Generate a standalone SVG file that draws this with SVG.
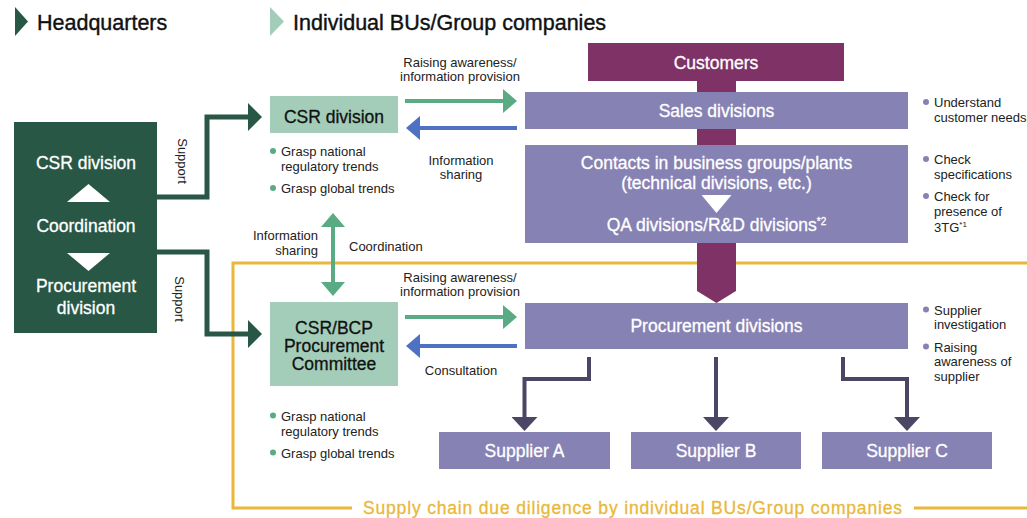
<svg xmlns="http://www.w3.org/2000/svg" width="1027" height="518" viewBox="0 0 1027 518">
<defs>
<style>
text{font-family:"Liberation Sans",Arial,sans-serif;}
.title{font-size:21.5px;fill:#111;stroke:#111;stroke-width:0.4;}
.lbl{font-size:17.5px;text-anchor:middle;stroke-width:0.3;}
.w{fill:#fff;stroke:#fff;}
.k{fill:#111;stroke:#111;}
.sm{font-size:13px;fill:#222;}
.c{text-anchor:middle;}
.hq{fill:#285745;}
.lg{fill:#a3cdb9;}
.pu{fill:#8782b4;}
.gdot{fill:#5aab84;}
.pdot{fill:#8782b4;}
.sup{fill:none;stroke:#285745;stroke-width:5;}
.ga{fill:none;stroke:#5aab84;stroke-width:4;}
.ba{fill:none;stroke:#4f71c4;stroke-width:4;}
.sa{fill:none;stroke:#4b4566;stroke-width:4;}
.yl{fill:none;stroke:#e9b83a;stroke-width:3;}
</style>
<marker id="mDG" markerUnits="userSpaceOnUse" markerWidth="14" markerHeight="28" refX="0" refY="14" orient="auto"><path d="M0,0 L14,14 L0,28 z" fill="#285745"/></marker>
<marker id="mG" markerUnits="userSpaceOnUse" markerWidth="14" markerHeight="24" refX="0" refY="12" orient="auto-start-reverse"><path d="M0,0 L14,12 L0,24 z" fill="#5aab84"/></marker>
<marker id="mB" markerUnits="userSpaceOnUse" markerWidth="14" markerHeight="24" refX="0" refY="12" orient="auto"><path d="M0,0 L14,12 L0,24 z" fill="#4f71c4"/></marker>
<marker id="mS" markerUnits="userSpaceOnUse" markerWidth="14" markerHeight="26" refX="0" refY="13" orient="auto"><path d="M0,0 L14,13 L0,26 z" fill="#4b4566"/></marker>
</defs>
<rect width="1027" height="518" fill="#fff"/>

<g id="titles">
<polygon points="15,7 28,21.5 15,36" fill="#285745"/>
<text class="title" x="37" y="30">Headquarters</text>
<polygon points="270,7 284,21.5 270,36" fill="#a3cdb9"/>
<text class="title" x="293" y="30">Individual BUs/Group companies</text>
</g>

<g id="supply-chain-frame">
<path class="yl" d="M1027,263 H233 V508 H352"/>
<path class="yl" d="M914,508 H1027"/>
<text x="363" y="514" font-size="17.5" fill="#e9b83a" stroke="#e9b83a" stroke-width="0.3" textLength="539" lengthAdjust="spacing">Supply chain due diligence by individual BUs/Group companies</text>
</g>

<g id="flow-bar">
<polygon points="697,81 736,81 736,291 716.5,303 697,291" fill="#7f3266"/>
</g>

<g id="connectors">
<path class="sup" d="M157,197 H207 V117 H248" marker-end="url(#mDG)"/>
<path class="sup" d="M157,252 H207 V334 H248" marker-end="url(#mDG)"/>
<path class="ga" d="M405,101 H503" marker-end="url(#mG)"/>
<path class="ba" d="M517,128 H420" marker-end="url(#mB)"/>
<path class="ga" d="M405,317 H503" marker-end="url(#mG)"/>
<path class="ba" d="M517,346 H420" marker-end="url(#mB)"/>
<path class="ga" d="M333,227 V282" marker-start="url(#mG)" marker-end="url(#mG)"/>
<path class="sa" d="M589,357 V379 H524.5 V417" marker-end="url(#mS)"/>
<path class="sa" d="M716,357 V417" marker-end="url(#mS)"/>
<path class="sa" d="M843,357 V379 H907 V417" marker-end="url(#mS)"/>
<text class="sm" x="182" y="161" text-anchor="middle" transform="rotate(90 182 161)" dy="4.5">Support</text>
<text class="sm" x="179" y="299" text-anchor="middle" transform="rotate(90 179 299)" dy="4.5">Support</text>
<text class="sm c" x="460" y="66.5">Raising awareness/</text>
<text class="sm c" x="460" y="80.5">information provision</text>
<text class="sm c" x="461" y="164.5">Information</text>
<text class="sm c" x="461" y="178.5">sharing</text>
<text class="sm" x="318" y="239.5" text-anchor="end">Information</text>
<text class="sm" x="318" y="254.5" text-anchor="end">sharing</text>
<text class="sm" x="349" y="250.5">Coordination</text>
<text class="sm c" x="460" y="281.5">Raising awareness/</text>
<text class="sm c" x="460" y="295.5">information provision</text>
<text class="sm c" x="461" y="374.5">Consultation</text>
</g>

<g id="hq">
<rect class="hq" x="14" y="122" width="143" height="211"/>
<text class="lbl w" x="86" y="169">CSR division</text>
<polygon points="67,202 88.5,184 110,202" fill="#fff"/>
<text class="lbl w" x="86" y="232">Coordination</text>
<polygon points="67,253 110,253 88.5,271" fill="#fff"/>
<text class="lbl w" x="86" y="292">Procurement</text>
<text class="lbl w" x="86" y="314">division</text>
</g>

<g id="csr-division">
<rect class="lg" x="270" y="96" width="128" height="37"/>
<text class="lbl k" x="334" y="123">CSR division</text>
<circle class="gdot" cx="273" cy="151" r="3"/>
<text class="sm" x="281" y="156">Grasp national</text>
<text class="sm" x="281" y="171">regulatory trends</text>
<circle class="gdot" cx="273" cy="188" r="3"/>
<text class="sm" x="281" y="192.5">Grasp global trends</text>
</g>

<g id="csr-bcp-committee">
<rect class="lg" x="270" y="302" width="128" height="84"/>
<text class="lbl k" x="334" y="334">CSR/BCP</text>
<text class="lbl k" x="334" y="352">Procurement</text>
<text class="lbl k" x="334" y="370">Committee</text>
<circle class="gdot" cx="273" cy="415.5" r="3"/>
<text class="sm" x="281" y="420.5">Grasp national</text>
<text class="sm" x="281" y="435.5">regulatory trends</text>
<circle class="gdot" cx="273" cy="452.5" r="3"/>
<text class="sm" x="281" y="457.5">Grasp global trends</text>
</g>

<g id="customers">
<rect x="588" y="43" width="256" height="38" fill="#7f3266"/>
<text class="lbl w" x="716" y="68.5">Customers</text>
</g>

<g id="sales-divisions">
<rect class="pu" x="525" y="92" width="383" height="37"/>
<text class="lbl w" x="716.5" y="117">Sales divisions</text>
<circle class="pdot" cx="926" cy="102" r="3"/>
<text class="sm" x="934" y="107">Understand</text>
<text class="sm" x="934" y="122">customer needs</text>
</g>

<g id="contacts">
<rect class="pu" x="525" y="145" width="383" height="98"/>
<text class="lbl w" x="716.5" y="169">Contacts in business groups/plants</text>
<text class="lbl w" x="716.5" y="189">(technical divisions, etc.)</text>
<polygon points="701.5,195 731.5,195 716.5,213" fill="#fff"/>
<text class="lbl w" x="716.5" y="231">QA divisions/R&amp;D divisions<tspan font-size="10" dy="-6">*2</tspan></text>
<circle class="pdot" cx="926" cy="159" r="3"/>
<text class="sm" x="934" y="164">Check</text>
<text class="sm" x="934" y="178.5">specifications</text>
<circle class="pdot" cx="926" cy="196" r="3"/>
<text class="sm" x="934" y="201">Check for</text>
<text class="sm" x="934" y="215.5">presence of</text>
<text class="sm" x="934" y="231.5">3TG<tspan font-size="8" dy="-5">*1</tspan></text>
</g>

<g id="procurement-divisions">
<rect class="pu" x="525" y="303" width="383" height="46"/>
<text class="lbl w" x="716.5" y="332">Procurement divisions</text>
<circle class="pdot" cx="926" cy="309.5" r="3"/>
<text class="sm" x="934" y="314.5">Supplier</text>
<text class="sm" x="934" y="329">investigation</text>
<circle class="pdot" cx="926" cy="346.5" r="3"/>
<text class="sm" x="934" y="351.5">Raising</text>
<text class="sm" x="934" y="366">awareness of</text>
<text class="sm" x="934" y="381">supplier</text>
</g>

<g id="supplier-a">
<rect class="pu" x="439" y="432" width="171" height="37"/>
<text class="lbl w" x="524.5" y="457">Supplier A</text>
</g>
<g id="supplier-b">
<rect class="pu" x="631" y="432" width="170" height="37"/>
<text class="lbl w" x="716" y="457">Supplier B</text>
</g>
<g id="supplier-c">
<rect class="pu" x="822" y="432" width="170" height="37"/>
<text class="lbl w" x="907" y="457">Supplier C</text>
</g>
</svg>
